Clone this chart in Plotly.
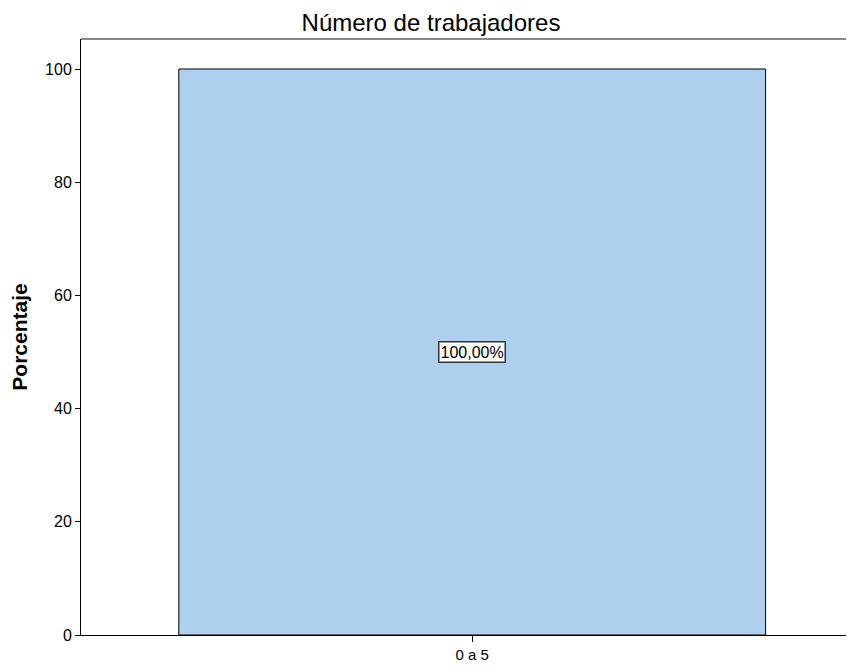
import plotly.graph_objects as go

categories = ["0 a 5"]
porcentaje = [100.0]
etiquetas = ["100,00%"]
tick_vals = [0, 20, 40, 60, 80, 100]

FONT = "Liberation Sans, Arial"

fig = go.Figure()
fig.add_trace(go.Bar(
    x=[0], y=porcentaje, width=0.75,
    marker=dict(color="#AECFEE", line=dict(color="#000000", width=1)),
    hoverinfo="skip", showlegend=False,
))
fig.add_annotation(
    x=0, y=porcentaje[0] / 2, text=etiquetas[0], showarrow=False,
    font=dict(family=FONT, size=16, color="#000000"),
    bgcolor="#FFFFFF", bordercolor="#333333", borderwidth=1.5, borderpad=1,
)
fig.add_shape(type="line", xref="paper", yref="paper", x0=0, x1=1, y0=1, y1=1,
              line=dict(color="#888888", width=2))
fig.update_layout(
    width=846, height=661,
    margin=dict(l=73, r=0, t=31, b=34),
    paper_bgcolor="#FFFFFF", plot_bgcolor="#FFFFFF",
    title=dict(text="Número de trabajadores", x=0.5, xanchor="center", xref="container",
               y=1 - 15 / 661, yanchor="middle",
               font=dict(family=FONT, size=24, color="#000000")),
    xaxis=dict(range=[-0.5, 0.488], tickvals=[0], ticktext=categories,
               showgrid=False, zeroline=False, showline=True, linecolor="#000000",
               linewidth=1, ticks="outside", ticklen=6, tickcolor="#000000",
               tickfont=dict(family=FONT, size=15, color="#000000")),
    yaxis=dict(range=[0, 105.3], tickvals=tick_vals, showgrid=False, zeroline=False,
               showline=True, linecolor="#000000", linewidth=1,
               ticks="outside", ticklen=5, tickcolor="#000000",
               tickfont=dict(family=FONT, size=16, color="#000000"),
               title=dict(text="<b>Porcentaje</b>", standoff=12,
                          font=dict(family=FONT, size=21, color="#000000"))),
)
fig.write_html("out.html")
